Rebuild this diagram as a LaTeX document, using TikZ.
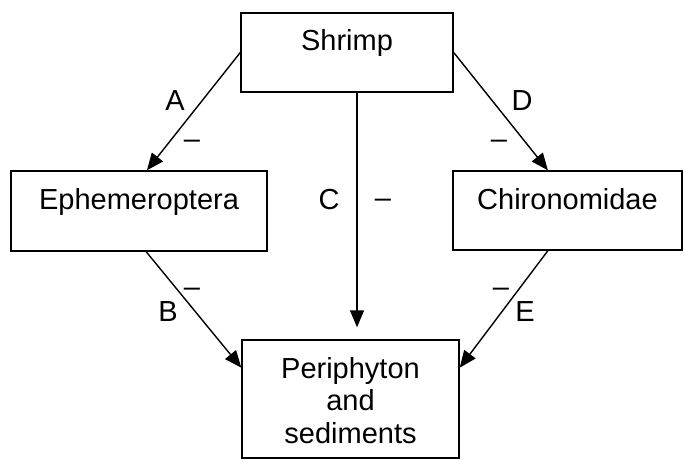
\documentclass[tikz,border=0pt]{standalone}
\usepackage{fontspec}
\setmainfont{Liberation Sans}
\usepackage{tikz}
\usetikzlibrary{arrows.meta,positioning}
\tikzset{
  box/.style={draw,line width=1.4pt,rectangle,inner sep=0pt,
    text height=38pt,text depth=41pt,align=center},
  sign/.style={inner sep=0pt},
  every node/.style={font=\fontsize{29}{32.5}\selectfont}
}
\tikzstyle{arrow} = [line width=1.4pt,-{Triangle[length=17pt,width=14pt]}]

\begin{document}
\begin{tikzpicture}[x=1pt,y=-1pt]
\useasboundingbox (0,0) rectangle (683,460);
% compartments
\node[box,minimum width=212pt] (shrimp) at (347,52.5) {Shrimp};
\node[box,minimum width=256pt,text depth=42pt] (ephem) at (139,211) {Ephemeroptera};
\node[box,minimum width=229pt] (chiro) at (567.5,210.5) {Chironomidae};
\node[box,minimum width=217pt,text height=103pt,text depth=15pt] (peri) at (350.5,399) {Periphyton\\and\\sediments};
% links
\draw[arrow] (shrimp.west) -- (ephem.79);
\draw[arrow] (shrimp.east) -- (chiro.116);
\draw[arrow,shorten >=12pt] (shrimp.284) -- (shrimp.284 |- peri.north);
\draw[arrow] (ephem.280) -- (peri.164);
\draw[arrow] (chiro.244) -- (peri.16);
% path letters and signs
\node (labA) at (175,101) {A}; \node[sign] (sgnA) at (192,144) {\textendash};
\node (labD) at (522,101) {D}; \node[sign] (sgnD) at (499,144) {\textendash};
\node (labC) at (329,200) {C}; \node[sign] (sgnC) at (383,203) {\textendash};
\node (labB) at (168,312) {B}; \node[sign] (sgnB) at (192,292) {\textendash};
\node (labE) at (525,312) {E}; \node[sign] (sgnE) at (501,292) {\textendash};
\end{tikzpicture}
\end{document}
